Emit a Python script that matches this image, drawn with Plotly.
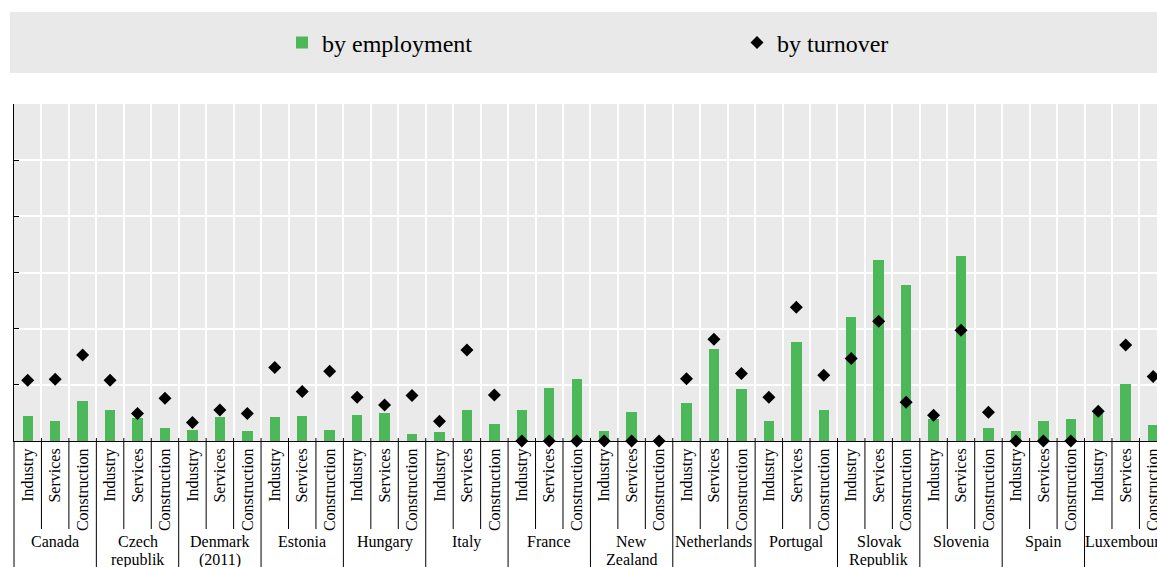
import plotly.graph_objects as go

countries = ["Canada", "Czech<br>republik", "Denmark<br>(2011)", "Estonia", "Hungary", "Italy",
             "France", "New<br>Zealand", "Netherlands", "Portugal", "Slovak<br>Republik",
             "Slovenia", "Spain", "Luxembourg"]
sectors = ["Industry", "Services", "Construction"]

by_employment = [4.5, 3.6, 7.2,   5.45, 4.1, 2.3,   2.0, 4.3, 1.8,   4.3, 4.5, 2.0,
                 4.7, 5.0, 1.3,   1.55, 5.45, 3.1,  5.45, 9.5, 11.1, 1.8, 5.2, 0.0,
                 6.8, 16.3, 9.3,  3.55, 17.7, 5.6,  22.0, 32.3, 27.8, 3.85, 33.0, 2.4,
                 1.8, 3.55, 4.0,  5.0, 10.2, 2.9]
by_turnover = [10.8, 11.0, 15.3, 10.8, 4.9, 7.6,  3.3, 5.5, 4.9,   13.1, 8.8, 12.4,
               7.8, 6.4, 8.1,    3.5, 16.2, 8.2,  0.0, 0.0, 0.0,   0.0, 0.0, 0.0,
               11.1, 18.1, 12.0, 7.8, 23.8, 11.7, 14.7, 21.3, 6.9,  4.6, 19.7, 5.1,
               0.0, 0.0, 0.0,    5.3, 17.1, 11.5]

FONT = "'Liberation Serif', 'Times New Roman', Times, serif"
W, H = 1157, 567
ML, MT = 14, 104
PLOT_BOTTOM = 441
MB = H - PLOT_BOTTOM
MR = 0
PW, PH = W - ML - MR, H - MT - MB

n = len(countries) * len(sectors)
xs = list(range(n))
labels = [sectors[i % 3] for i in xs]

fig = go.Figure()
fig.add_trace(go.Bar(x=xs, y=by_employment, name="by employment", width=0.38,
                     marker=dict(color="#4cb85a", line=dict(width=0)),
                     legend="legend"))
fig.add_trace(go.Scatter(x=xs, y=by_turnover, name="by turnover", mode="markers",
                         marker=dict(symbol="diamond", size=10, color="black"),
                         cliponaxis=False, legend="legend2"))


def page_y(py):
    """page pixel y -> paper coordinate"""
    return (PLOT_BOTTOM - py) / PH


def page_x(px):
    """page pixel x -> paper coordinate"""
    return (px - ML) / PW


shapes = []
shapes.append(dict(type="rect", xref="paper", yref="paper", layer="below",
                   x0=page_x(10), x1=page_x(1175), y0=page_y(73), y1=page_y(12),
                   fillcolor="#e9e9e9", line=dict(width=0)))
y_short = page_y(529)
y_long = page_y(H + 20)
y_top = 3 / PH
shapes.append(dict(type="line", xref="paper", yref="paper", x0=0, x1=0,
                   y0=y_long, y1=0, line=dict(color="black", width=1)))
for i in range(n):
    b = i + 0.5
    is_country = (i + 1) % 3 == 0
    shapes.append(dict(type="line", xref="x", yref="paper", x0=b, x1=b,
                       y0=y_long if is_country else y_short, y1=y_top,
                       line=dict(color="black", width=1)))

annotations = []
for k, c in enumerate(countries):
    for j, line in enumerate(c.split("<br>")):
        annotations.append(dict(x=3 * k + 1, y=page_y(531 + 18 * j), xref="x", yref="paper",
                                text=line, showarrow=False, yanchor="top", xanchor="center",
                                font=dict(family=FONT, size=16, color="black")))

fig.update_layout(
    width=W, height=H,
    margin=dict(l=ML, r=MR, t=MT, b=MB, pad=0),
    paper_bgcolor="white", plot_bgcolor="#eaeaea",
    font=dict(family=FONT, size=16, color="black"),
    shapes=shapes, annotations=annotations,
    showlegend=True,
    legend=dict(x=page_x(282), y=page_y(43), xanchor="left", yanchor="middle",
                bgcolor="rgba(0,0,0,0)", font=dict(family=FONT, size=24, color="black"),
                orientation="h"),
    legend2=dict(x=page_x(737), y=page_y(43), xanchor="left", yanchor="middle",
                 bgcolor="rgba(0,0,0,0)", font=dict(family=FONT, size=24, color="black"),
                 orientation="h"),
    xaxis=dict(range=[-0.5, 41.14], tickmode="array", tickvals=xs, ticktext=labels,
               tickangle=-90, ticks="", showgrid=False, zeroline=False,
               showline=True, linecolor="black", linewidth=1, ticklabeloverflow="allow",
               tickfont=dict(family=FONT, size=16, color="black"), automargin=False,
               minor=dict(tickmode="array", tickvals=[i + 0.5 for i in xs],
                          showgrid=True, gridcolor="white", gridwidth=1.5, ticks="")),
    yaxis=dict(range=[0, 60], dtick=10, showticklabels=False, ticks="inside", ticklen=5,
               tickcolor="black", showline=True, linecolor="black", linewidth=1,
               showgrid=True, gridcolor="white", gridwidth=1.5, zeroline=False,
               automargin=False),
    bargap=0,
)

fig.write_html("out.html", config={"displayModeBar": False},
               post_script="document.body.style.margin='0';document.body.style.overflow='hidden';")
